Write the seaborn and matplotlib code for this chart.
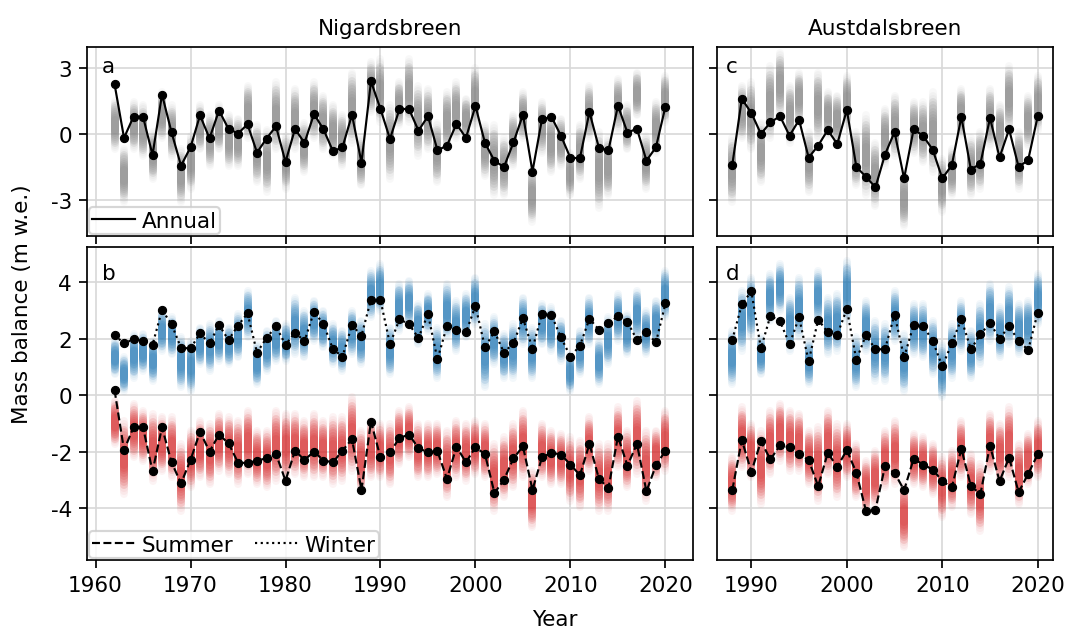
import numpy as np
import pandas as pd
import matplotlib.pyplot as plt
import seaborn as sns
from matplotlib.lines import Line2D

plt.rcParams['axes.unicode_minus'] = False

# years
years_nig = list(range(1962, 2021))
years_aus = list(range(1988, 2021))

# observed mass balance, Nigardsbreen (m w.e.)
nig_annual = [2.28, -0.18, 0.79, 0.79, -0.96, 1.80, 0.08, -1.45, -0.61, 0.85,
              -0.20, 1.07, 0.23, 0.02, 0.44, -0.85, -0.21, 0.35, -1.28, 0.23,
              -0.41, 0.91, 0.21, -0.79, -0.61, 0.88, -1.31, 2.40, 1.14, -0.23,
              1.14, 1.14, 0.15, 0.81, -0.75, -0.53, 0.46, -0.18, 1.28, -0.41,
              -1.23, -1.51, -0.39, 0.88, -1.72, 0.67, 0.78, -0.08, -1.10, -1.10,
              1.00, -0.64, -0.75, 1.29, 0.06, 0.24, -1.22, -0.61, 1.25]
nig_winter = [2.12, 1.83, 1.97, 1.92, 1.78, 3.01, 2.51, 1.67, 1.65, 2.18,
              1.83, 2.48, 1.95, 2.46, 2.89, 1.50, 2.02, 2.43, 1.78, 2.21,
              1.91, 2.95, 2.51, 1.62, 1.36, 2.48, 2.10, 3.38, 3.36, 1.80,
              2.68, 2.51, 2.02, 2.87, 1.26, 2.45, 2.30, 2.22, 3.15, 1.69,
              2.25, 1.50, 1.84, 2.72, 1.64, 2.87, 2.83, 2.04, 1.36, 1.75,
              2.70, 2.31, 2.55, 2.79, 2.59, 1.95, 2.22, 1.86, 3.24]
nig_summer = [0.18, -1.95, -1.14, -1.14, -2.70, -1.14, -2.38, -3.13, -2.30, -1.30,
              -2.00, -1.40, -1.71, -2.39, -2.41, -2.32, -2.24, -2.09, -3.03, -1.97,
              -2.30, -2.00, -2.32, -2.38, -1.97, -1.56, -3.36, -0.94, -2.21, -2.03,
              -1.52, -1.40, -1.88, -2.03, -1.99, -2.97, -1.83, -2.38, -1.85, -2.09,
              -3.47, -3.00, -2.24, -1.82, -3.36, -2.21, -2.04, -2.11, -2.46, -2.84,
              -1.73, -2.97, -3.29, -1.47, -2.50, -1.73, -3.41, -2.49, -1.97]

# observed mass balance, Austdalsbreen
aus_annual = [-1.42, 1.60, 0.96, 0.00, 0.53, 0.81, -0.08, 0.64, -1.08, -0.53,
              0.18, -0.46, 1.10, -1.51, -1.95, -2.44, -0.94, 0.09, -2.03, 0.21,
              -0.09, -0.72, -2.03, -1.43, 0.78, -1.63, -1.35, 0.73, -1.07, 0.21,
              -1.51, -1.19, 0.81]
aus_winter = [1.95, 3.21, 3.67, 1.65, 2.81, 2.61, 1.80, 2.75, 1.19, 2.67,
              2.22, 2.13, 3.05, 1.24, 2.12, 1.62, 1.62, 2.85, 1.33, 2.48,
              2.44, 1.92, 1.01, 1.83, 2.69, 1.62, 2.15, 2.55, 2.00, 2.43,
              1.92, 1.59, 2.92]
aus_summer = [-3.37, -1.59, -2.72, -1.64, -2.28, -1.78, -1.85, -2.10, -2.30, -3.23,
              -2.05, -2.54, -1.95, -2.75, -4.09, -4.06, -2.52, -2.75, -3.37, -2.26,
              -2.46, -2.64, -3.04, -3.27, -1.90, -3.23, -3.50, -1.79, -3.05, -2.22,
              -3.44, -2.79, -2.10]

# modelled ensemble spread (visible low / high of each yearly cloud)
nig_annual_hi = [1.52, -0.68, 1.45, 1.3, 0.08, 1.9, 1.3, -0.7, -0.1, 1.3,
                 0.85, 1.3, 0.85, 0.7, 2.2, 0.4, 0.2, 2.35, -0.1, 2.05,
                 0.5, 2.35, 1.75, 1.3, 0.85, 2.8, -0.2, 3.3, 3.4, 1.3,
                 2.35, 3.4, 2.2, 2.05, 0.5, 1.9, 2.35, 1.6, 3.0, 0.4,
                 0.4, -0.2, 0.85, 1.9, -1.6, 1.45, 0.85, 0.7, -0.85, 0.4,
                 2.2, 0.1, -0.2, 2.5, 1.3, 2.8, -0.1, 1.45, 2.65]
nig_annual_lo = [-0.68, -3.1, -0.68, -1.0, -2.05, -0.2, -1.05, -3.1, -2.5, -0.7,
                 -1.45, -0.7, -1.45, -1.45, -0.2, -2.2, -2.65, -0.7, -2.5, -0.7,
                 -1.75, -0.2, -0.7, -1.0, -1.45, -0.4, -2.35, 1.0, 0.55, -2.05,
                 0.4, 0.55, -1.0, -0.7, -2.2, -0.7, -0.2, -0.2, 0.4, -1.9,
                 -2.8, -2.8, -1.45, -0.2, -4.0, -0.85, -1.75, -1.45, -2.8, -2.05,
                 -0.2, -3.4, -2.8, 0.2, -0.7, 0.85, -2.5, -0.85, 0.55]
nig_winter_hi = [1.92, 1.33, 2.16, 2.16, 1.92, 2.98, 2.75, 2.04, 1.92, 2.39,
                 2.5, 2.63, 2.39, 2.87, 3.69, 1.8, 2.28, 2.63, 2.5, 3.45,
                 2.98, 3.34, 2.98, 2.5, 2.28, 2.98, 2.63, 4.4, 4.63, 2.39,
                 3.93, 4.05, 3.22, 3.57, 2.39, 3.93, 3.34, 3.57, 4.16, 2.5,
                 2.75, 2.16, 2.5, 3.45, 2.39, 3.22, 3.1, 2.63, 1.45, 2.28,
                 3.45, 1.92, 2.75, 3.57, 2.87, 3.69, 2.98, 3.34, 4.4]
nig_winter_lo = [0.74, 0.15, 0.62, 0.86, 0.5, 1.57, 1.45, 0.27, 0.15, 1.1,
                 0.86, 1.21, 1.1, 1.33, 2.04, 0.39, 0.86, 1.21, 1.21, 1.45,
                 1.33, 1.92, 1.69, 1.1, 0.86, 1.45, 1.1, 2.75, 2.98, 0.74,
                 2.28, 2.51, 1.8, 2.28, 0.62, 2.04, 1.57, 2.04, 2.51, 0.27,
                 1.1, 0.62, 0.62, 1.8, 0.62, 1.8, 1.57, 1.21, 0.15, 0.74,
                 1.8, 0.39, 1.1, 1.92, 1.45, 2.04, 1.45, 1.8, 2.75]
nig_summer_hi = [-0.2, -0.91, -0.32, -0.55, -0.67, -0.79, -0.79, -1.73, -1.26, -0.91,
                 -1.03, -0.67, -0.79, -0.91, -0.55, -1.26, -1.26, -0.55, -0.67, -0.67,
                 -0.91, -0.67, -0.91, -0.79, -0.79, -0.08, -1.26, -0.91, -1.03, -1.03,
                 -0.55, -0.44, -1.03, -1.03, -1.03, -1.26, -0.91, -1.03, -0.91, -1.03,
                 -1.73, -1.5, -1.03, -0.55, -2.68, -1.03, -1.26, -1.38, -1.5, -1.62,
                 -0.79, -1.73, -1.73, -0.44, -1.26, -0.2, -1.26, -1.26, -0.55]
nig_summer_lo = [-1.73, -3.5, -2.2, -2.32, -3.03, -2.68, -2.91, -4.09, -3.27, -2.91,
                 -3.15, -2.68, -2.8, -3.15, -2.8, -3.15, -3.27, -3.03, -2.91, -2.8,
                 -2.91, -2.91, -2.91, -3.15, -3.03, -2.68, -3.38, -2.91, -2.91, -3.15,
                 -2.44, -2.2, -2.91, -2.91, -2.8, -3.62, -2.91, -3.03, -2.8, -2.91,
                 -4.09, -3.62, -3.27, -2.91, -4.68, -2.91, -3.15, -3.15, -3.74, -3.97,
                 -2.68, -4.09, -4.09, -2.56, -3.27, -2.8, -3.74, -2.91, -2.68]

aus_annual_hi = [-0.2, 2.2, 2.35, 0.5, 3.1, 3.7, 2.2, 2.8, 0.1, 2.8,
                 1.9, 1.75, 2.65, 0.1, 0.85, -0.4, 1.15, 1.75, -1.75, 1.45,
                 1.45, 1.9, -1.15, -0.7, 2.05, -0.2, 0.1, 2.05, 1.3, 3.1,
                 0.1, 1.75, 2.65]
aus_annual_lo = [-3.1, -0.2, -0.7, -2.2, -0.2, 0.85, -0.4, 0.55, -2.65, -0.2,
                 -0.1, -0.4, 0.4, -2.35, -2.8, -3.3, -1.45, -1.0, -4.2, -0.85,
                 -1.3, -1.75, -3.55, -2.8, -0.1, -2.8, -2.5, -0.55, -1.0, 0.2,
                 -2.5, -0.55, 0.2]
aus_winter_hi = [2.28, 3.69, 4.16, 2.04, 4.28, 4.63, 3.45, 4.16, 1.92, 4.4,
                 3.45, 3.57, 4.75, 2.04, 3.34, 2.63, 2.5, 3.69, 2.16, 3.22,
                 3.22, 2.63, 1.8, 2.5, 3.34, 2.28, 3.22, 3.93, 3.1, 3.81,
                 3.22, 3.34, 4.28]
aus_winter_lo = [0.39, 1.57, 2.04, 0.74, 2.63, 2.98, 1.57, 2.04, 0.39, 2.63,
                 1.45, 1.57, 2.63, 0.27, 1.57, 0.5, 0.5, 1.92, 0.15, 1.45,
                 1.33, 0.74, -0.08, 0.62, 1.57, 0.62, 1.1, 1.92, 1.33, 1.8,
                 1.45, 1.57, 2.51]
aus_summer_hi = [-2.2, -0.44, -1.03, -1.26, -0.55, -0.32, -0.55, -0.67, -1.26, -1.14,
                 -0.55, -1.03, -1.03, -1.73, -2.32, -1.97, -1.26, -0.91, -3.15, -1.38,
                 -1.5, -1.73, -2.2, -1.97, -0.91, -2.09, -2.44, -0.67, -1.03, -0.44,
                 -1.73, -1.38, -0.91]
aus_summer_lo = [-4.09, -2.56, -2.91, -3.86, -2.8, -2.32, -2.68, -2.68, -3.15, -3.74,
                 -2.8, -3.62, -2.91, -3.62, -4.09, -3.86, -3.27, -3.15, -5.39, -3.15,
                 -3.27, -3.5, -4.33, -3.97, -2.91, -4.21, -4.8, -2.68, -3.03, -2.91,
                 -3.86, -3.15, -2.91]

nig = pd.DataFrame({'year': years_nig, 'annual': nig_annual,
                    'winter': nig_winter, 'summer': nig_summer})
aus = pd.DataFrame({'year': years_aus, 'annual': aus_annual,
                    'winter': aus_winter, 'summer': aus_summer})

DPI = 155
fig, axs = plt.subplots(
    2, 2, figsize=(1066 / DPI, 629 / DPI), dpi=DPI, sharex='col', sharey='row',
    gridspec_kw=dict(width_ratios=[606, 336], height_ratios=[189, 313],
                     left=0.0816, right=0.9878, top=0.9237, bottom=0.1081,
                     wspace=0.051, hspace=0.0438))


def cloud(ax, years, lo, hi, color):
    # soft vertical band, denser toward the middle
    lo = np.asarray(lo)
    hi = np.asarray(hi)
    mid = (lo + hi) / 2
    half = (hi - lo) / 2
    for frac in [1.0, 0.92, 0.84, 0.76, 0.68, 0.6, 0.52, 0.44, 0.36, 0.28, 0.2]:
        a = 0.05 if frac > 0.8 else 0.14
        ax.vlines(years, mid - half * frac, mid + half * frac, color=color,
                  alpha=a, lw=3.7, capstyle='round', zorder=1)


def obs(ax, df, col, ls):
    sns.lineplot(data=df, x='year', y=col, ax=ax, color='k', lw=1.0,
                 linestyle=ls, marker='o', markersize=3.8,
                 markeredgecolor='k', markeredgewidth=0.5, zorder=3)


# annual
cloud(axs[0, 0], years_nig, nig_annual_lo, nig_annual_hi, 'gray')
obs(axs[0, 0], nig, 'annual', '-')
cloud(axs[0, 1], years_aus, aus_annual_lo, aus_annual_hi, 'gray')
obs(axs[0, 1], aus, 'annual', '-')

# seasonal
for ax, df, yrs, w_lo, w_hi, s_lo, s_hi in [
        (axs[1, 0], nig, years_nig, nig_winter_lo, nig_winter_hi, nig_summer_lo, nig_summer_hi),
        (axs[1, 1], aus, years_aus, aus_winter_lo, aus_winter_hi, aus_summer_lo, aus_summer_hi)]:
    cloud(ax, yrs, w_lo, w_hi, 'tab:blue')
    cloud(ax, yrs, s_lo, s_hi, 'tab:red')
    obs(ax, df, 'winter', ':')
    obs(ax, df, 'summer', '--')

for ax in axs.flat:
    ax.set_xlabel('')
    ax.set_ylabel('')
    ax.grid(True, color='0.85', lw=0.8)
    ax.set_axisbelow(True)
    ax.tick_params(labelsize=10)

axs[0, 0].set_xlim(1959.1, 2022.9)
axs[0, 1].set_xlim(1986.4, 2021.6)
axs[0, 0].set_xticks([1960, 1970, 1980, 1990, 2000, 2010, 2020])
axs[0, 1].set_xticks([1990, 2000, 2010, 2020])
axs[0, 0].set_ylim(-4.66, 3.97)
axs[0, 0].set_yticks([-3, 0, 3])
axs[1, 0].set_ylim(-5.84, 5.24)
axs[1, 0].set_yticks([-4, -2, 0, 2, 4])

axs[0, 0].set_title('Nigardsbreen', fontsize=10)
axs[0, 1].set_title('Austdalsbreen', fontsize=10)

for ax, lbl in zip([axs[0, 0], axs[1, 0], axs[0, 1], axs[1, 1]], 'abcd'):
    ax.text(0.025, 0.95, lbl, transform=ax.transAxes, fontsize=10,
            va='top', ha='left')

leg_kw = dict(loc='lower left', fontsize=10, borderpad=0.15, borderaxespad=0.1,
              handletextpad=0.3, handlelength=2.0, columnspacing=1.0)
axs[0, 0].legend(handles=[Line2D([], [], color='k', lw=1.0, label='Annual')], **leg_kw)
axs[1, 0].legend(handles=[Line2D([], [], color='k', lw=1.0, ls='--', label='Summer'),
                          Line2D([], [], color='k', lw=1.0, ls=':', label='Winter')],
                 ncol=2, **leg_kw)

fig.text(0.5206, 0.004, 'Year', ha='center', va='baseline', fontsize=10)
fig.text(0.0206, 0.516, 'Mass balance (m w.e.)', rotation=90,
         ha='center', va='center', fontsize=10)

fig.savefig('out.png', dpi=DPI)
